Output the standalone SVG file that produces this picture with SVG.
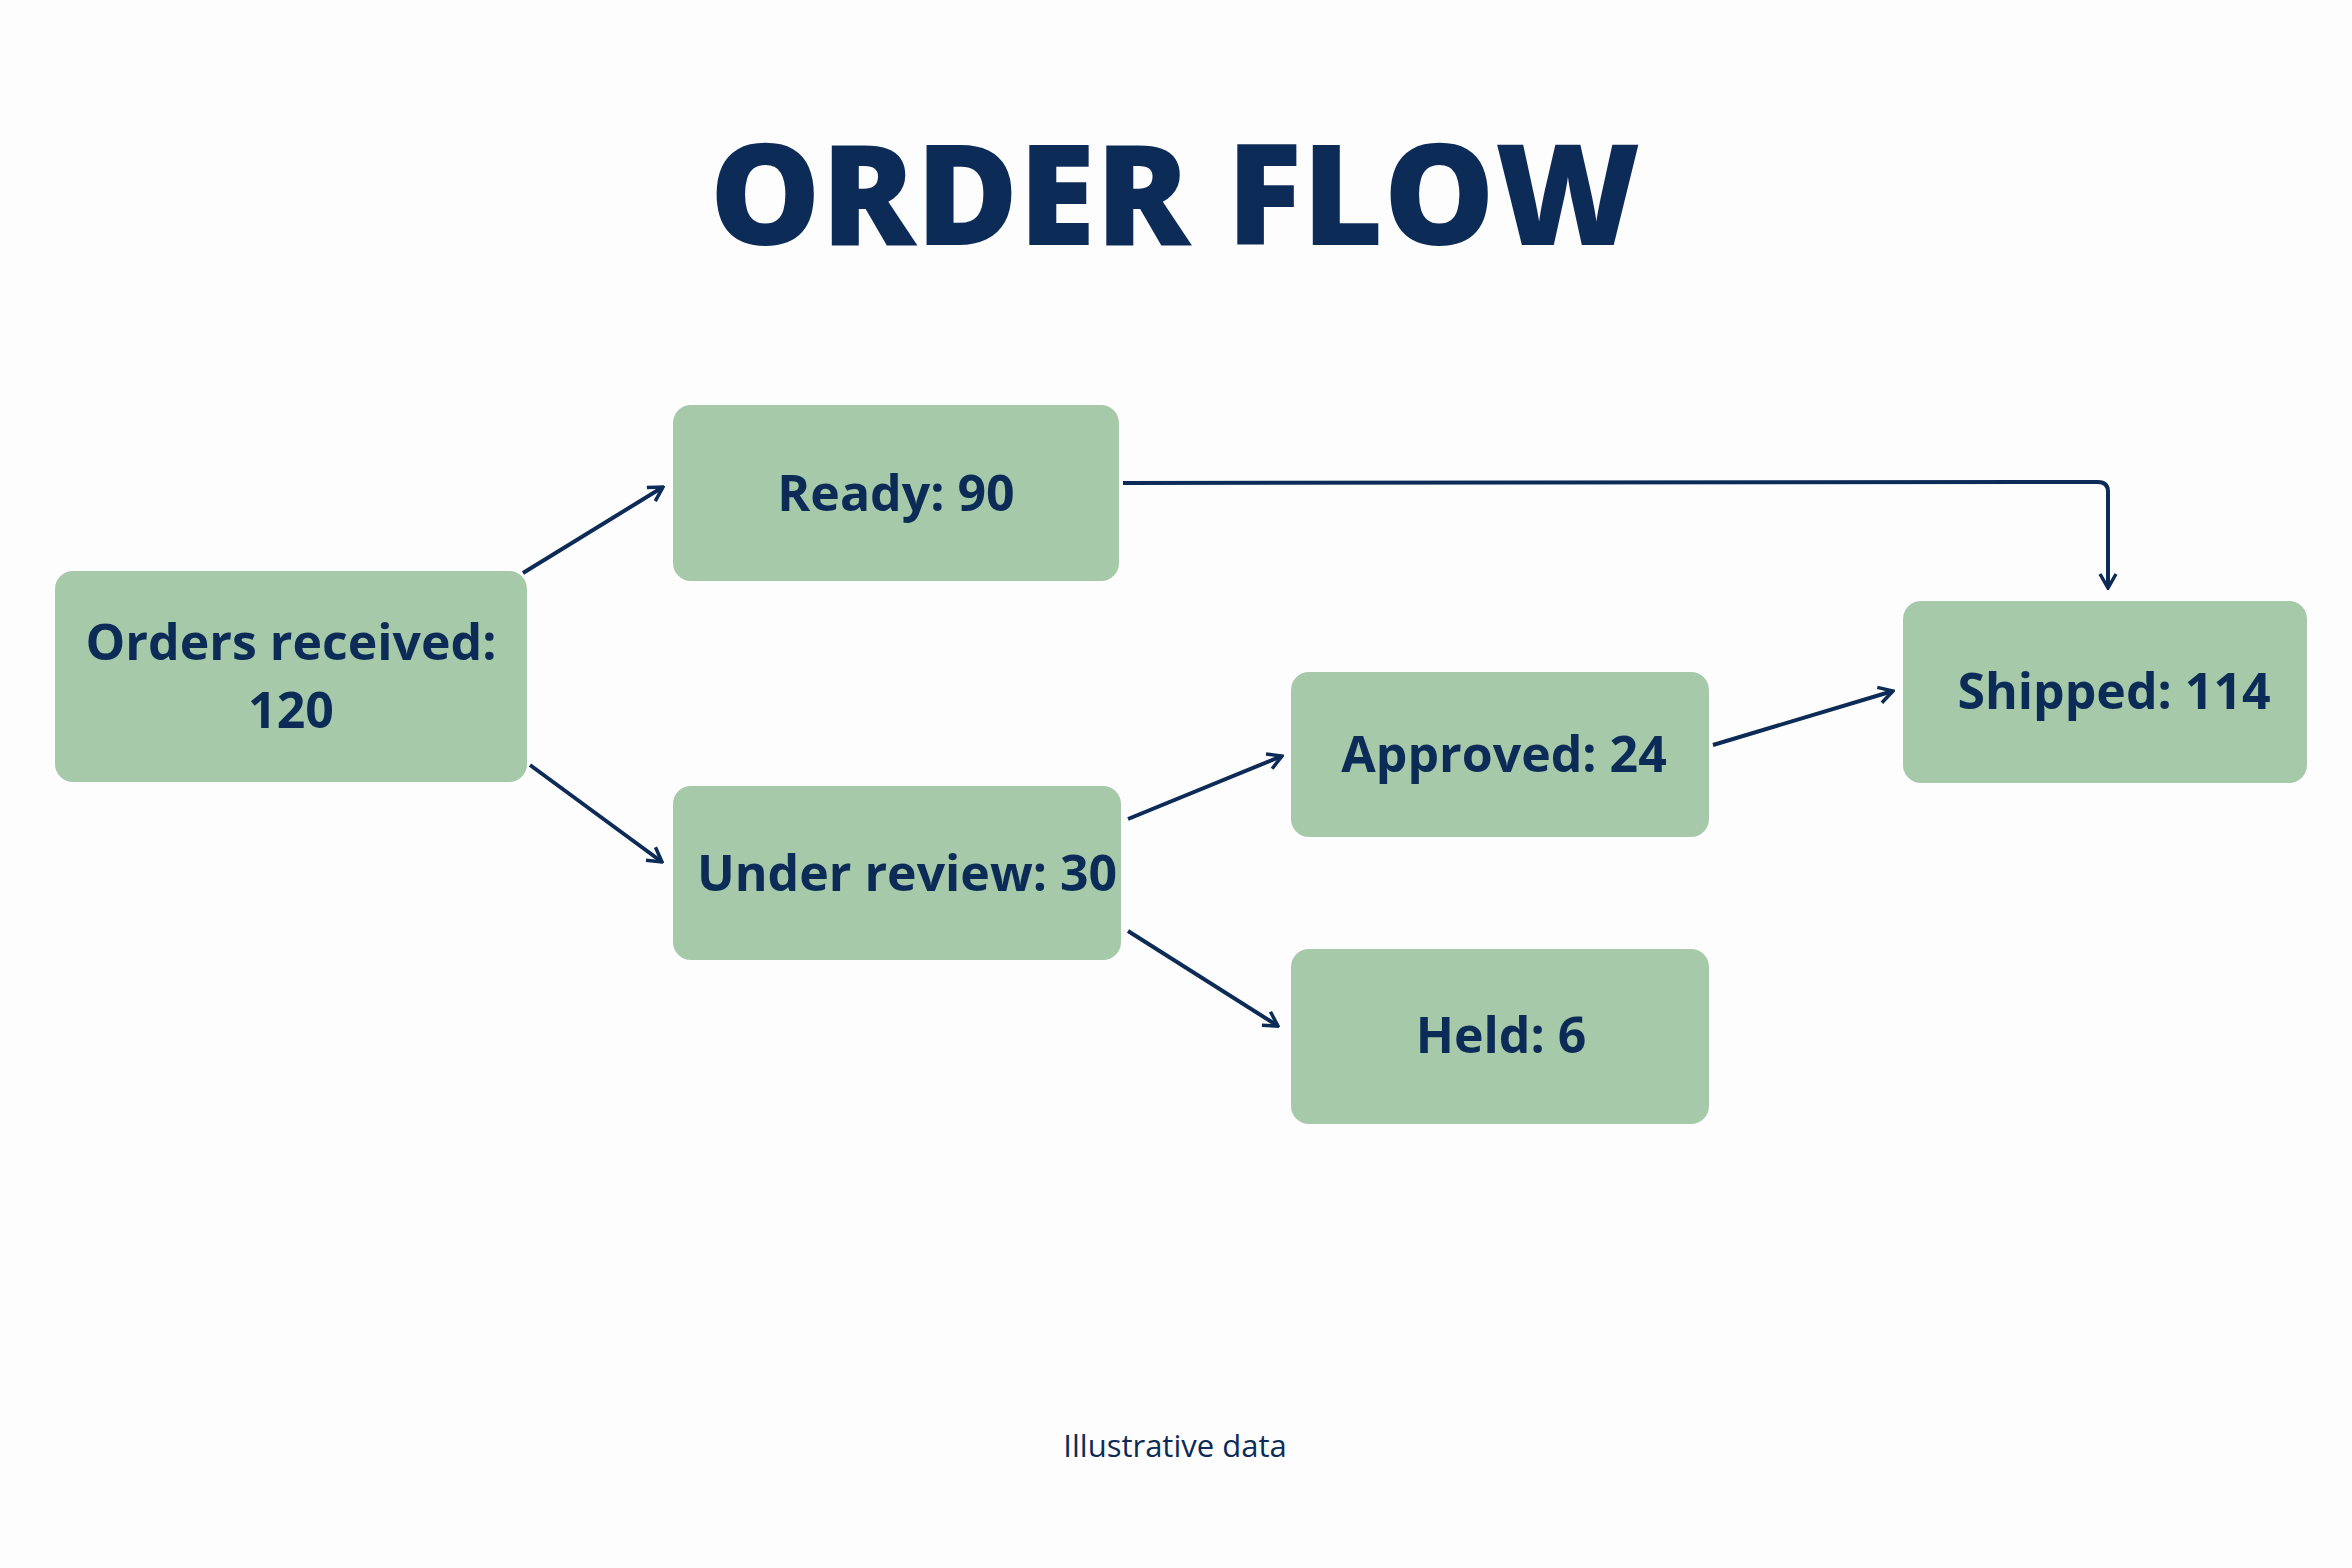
<svg xmlns="http://www.w3.org/2000/svg" width="2352" height="1568" viewBox="0 0 2352 1568">
<defs>
<style>
.n rect{fill:#a6c9a9}
.n text{font-family:"Open Sans","Liberation Sans",sans-serif;font-weight:700;font-size:50px;fill:#0d2b57;text-anchor:middle}
.c path{fill:none;stroke:#0d2b57;stroke-width:4}
</style>
<marker id="a" viewBox="0 0 20 20" refX="18" refY="10" markerWidth="20" markerHeight="20" markerUnits="userSpaceOnUse" orient="auto">
<path d="M4,2 L18,10 L4,18" fill="none" stroke="#0d2b57" stroke-width="3.5"/>
</marker>
</defs>
<rect width="2352" height="1568" fill="#fdfdfd"/>
<text x="1175" y="245" font-family="Open Sans,Liberation Sans,sans-serif" font-weight="800" font-size="140" fill="#0d2b57" text-anchor="middle">ORDER FLOW</text>
<g class="c">
<path d="M523,573 L663,487" marker-end="url(#a)"/>
<path d="M530,765 L662,862" marker-end="url(#a)"/>
<path d="M1123,483 L2098,482 Q2108,482 2108,492 L2108,588" marker-end="url(#a)"/>
<path d="M1128,819 L1282,756" marker-end="url(#a)"/>
<path d="M1128,931 L1278,1026" marker-end="url(#a)"/>
<path d="M1713,745 L1893,691" marker-end="url(#a)"/>
</g>
<g class="n" id="orders"><rect x="55" y="571" width="472" height="211" rx="18"/><text x="291" y="660">Orders received:</text><text x="291" y="728">120</text></g>
<g class="n" id="ready"><rect x="673" y="405" width="446" height="176" rx="18"/><text x="896" y="511">Ready: 90</text></g>
<g class="n" id="review"><rect x="673" y="786" width="448" height="174" rx="18"/><text x="907" y="891">Under review: 30</text></g>
<g class="n" id="approved"><rect x="1291" y="672" width="418" height="165" rx="18"/><text x="1504" y="772">Approved: 24</text></g>
<g class="n" id="held"><rect x="1291" y="949" width="418" height="175" rx="18"/><text x="1501" y="1053">Held: 6</text></g>
<g class="n" id="shipped"><rect x="1903" y="601" width="404" height="182" rx="18"/><text x="2114" y="709">Shipped: 114</text></g>
<text x="1175" y="1457" font-family="Open Sans,Liberation Sans,sans-serif" font-size="31" fill="#0d2b57" text-anchor="middle">Illustrative data</text>
</svg>
